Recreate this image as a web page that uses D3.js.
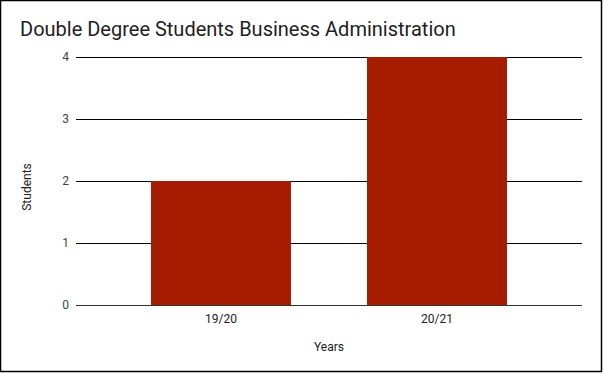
<!DOCTYPE html>
<html>
<head>
<meta charset="utf-8">
<script src="https://cdn.jsdelivr.net/npm/d3@7"></script>
<style>
  html, body { margin: 0; padding: 0; background: #fff; }
  svg { display: block; font-family: Roboto, Arial, sans-serif; }
</style>
</head>
<body>
<div id="chart"></div>
<script>
const years = ["19/20", "20/21"];
const students = [2, 4];
const yTicks = [0, 1, 2, 3, 4];

function drawChart(container) {
    const width = 603;
    const height = 374;

    const svg = d3.select(container).append("svg")
        .attr("width", width)
        .attr("height", height);

    // outer border
    svg.append("rect")
        .attr("x", 0.5).attr("y", 0.5)
        .attr("width", 601).attr("height", 371)
        .attr("fill", "#fff")
        .attr("stroke", "#000")
        .attr("stroke-width", 1.5);

    const x = d3.scaleBand()
        .domain(years)
        .range([113, 545])
        .paddingInner(0.352)
        .paddingOuter(0.176);

    const y = d3.scaleLinear()
        .domain([0, 4])
        .range([305, 57]);

    // gridlines
    svg.append("g")
        .selectAll("line")
        .data(yTicks)
        .join("line")
        .attr("x1", 76)
        .attr("x2", 582)
        .attr("y1", d => Math.round(y(d)) + 0.5)
        .attr("y2", d => Math.round(y(d)) + 0.5)
        .attr("stroke", d => d === 0 ? "#333" : "#000")
        .attr("stroke-width", 1);

    svg.append("g")
        .selectAll("rect")
        .data(years)
        .join("rect")
        .attr("x", d => x(d))
        .attr("width", x.bandwidth())
        .attr("y", (d, i) => y(students[i]))
        .attr("height", (d, i) => y(0) - y(students[i]))
        .attr("fill", "#a61c00");

    // redraw baseline on top of bars
    svg.append("line")
        .attr("x1", 76).attr("x2", 582)
        .attr("y1", y(0) + 0.5).attr("y2", y(0) + 0.5)
        .attr("stroke", "#333");

    // y tick labels
    svg.append("g")
        .selectAll("text")
        .data(yTicks)
        .join("text")
        .attr("x", 69)
        .attr("y", d => y(d) + 4)
        .attr("text-anchor", "end")
        .attr("font-size", 12)
        .attr("fill", "#444")
        .text(d => d);

    // x tick labels
    svg.append("g")
        .selectAll("text")
        .data(years)
        .join("text")
        .attr("x", d => x(d) + x.bandwidth() / 2)
        .attr("y", 323)
        .attr("text-anchor", "middle")
        .attr("font-size", 12)
        .attr("fill", "#222")
        .text(d => d);

    svg.append("text")
        .attr("x", 20)
        .attr("y", 36)
        .attr("font-size", 20)
        .attr("fill", "#222")
        .text("Double Degree Students Business Administration");

    svg.append("text")
        .attr("x", 329)
        .attr("y", 351)
        .attr("text-anchor", "middle")
        .attr("font-size", 12)
        .attr("fill", "#222")
        .text("Years");

    svg.append("text")
        .attr("transform", "translate(31,187) rotate(-90)")
        .attr("text-anchor", "middle")
        .attr("font-size", 12)
        .attr("fill", "#222")
        .text("Students");
}

drawChart("#chart");
</script>
</body>
</html>
